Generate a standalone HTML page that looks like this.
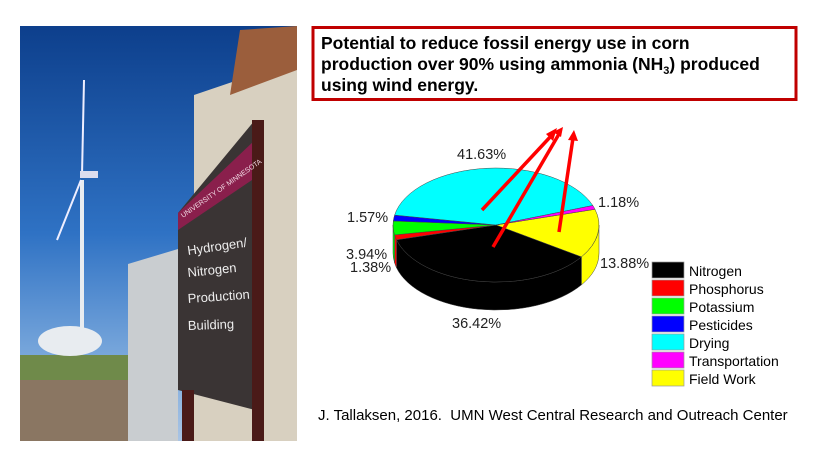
<!DOCTYPE html>
<html><head><meta charset="utf-8"><style>
body{margin:0;background:#fff;width:840px;height:470px;overflow:hidden;font-family:"Liberation Sans",Arial,sans-serif;}
</style></head><body>
<svg width="840" height="470" viewBox="0 0 840 470" xmlns="http://www.w3.org/2000/svg" font-family="Liberation Sans, Arial, sans-serif">
<defs>
<linearGradient id="sky" x1="0" y1="0" x2="0" y2="1">
<stop offset="0" stop-color="#0d3f8c"/><stop offset="0.5" stop-color="#2f72c4"/><stop offset="0.8" stop-color="#7aa8dc"/><stop offset="1" stop-color="#a9c4e4"/></linearGradient>
</defs>
<!-- photo -->
<rect x="20" y="26" width="277" height="415" fill="url(#sky)"/>
<rect x="20" y="378" width="110" height="63" fill="#8a7662"/>
<rect x="20" y="355" width="110" height="25" fill="#6f8a4a"/>
<line x1="82" y1="180" x2="82" y2="330" stroke="#e8ecf0" stroke-width="4"/>
<line x1="82" y1="175" x2="84" y2="80" stroke="#eef" stroke-width="2"/>
<line x1="81" y1="180" x2="57" y2="240" stroke="#eef" stroke-width="2"/>
<rect x="80" y="171" width="18" height="7" fill="#dde"/>
<ellipse cx="70" cy="341" rx="32" ry="15" fill="#e8ecf0"/>
<polygon points="128,264 178,249 178,441 128,441" fill="#c9cdd0"/>
<polygon points="194,95 297,60 297,441 194,441" fill="#d8d0c0"/>
<polygon points="240,30 297,26 297,70 230,95" fill="#9b5e3c"/>
<polygon points="178,213 255,120 255,410 178,390" fill="#3a3434"/>
<polygon points="178,213 255,140 252,180 178,230" fill="#8a1f4c"/>
<rect x="252" y="120" width="12" height="321" fill="#4a1a18"/>
<rect x="182" y="390" width="12" height="51" fill="#4a1a18"/>
<text x="188" y="255" fill="#eee" font-size="13" transform="rotate(-8 188 255)">Hydrogen/</text>
<text x="188" y="277" fill="#eee" font-size="13" transform="rotate(-6 188 277)">Nitrogen</text>
<text x="188" y="303" fill="#eee" font-size="13" transform="rotate(-4 188 303)">Production</text>
<text x="188" y="330" fill="#eee" font-size="13" transform="rotate(-2 188 330)">Building</text>
<text x="183" y="218" font-size="7" transform="rotate(-35 183 218)" style="fill:#f3dce6">UNIVERSITY OF MINNESOTA</text>
<!-- title box -->
<rect x="313" y="27.5" width="483" height="72" fill="#fff" stroke="#c00000" stroke-width="3"/>
<text font-size="17.5" font-weight="bold" fill="#000">
<tspan x="321" y="49">Potential to reduce fossil energy use in corn</tspan>
<tspan x="321" y="70">production over 90% using ammonia (NH<tspan font-size="11" dy="4">3</tspan><tspan dy="-4">) produced</tspan></tspan>
<tspan x="321" y="91">using wind energy.</tspan>
</text>
<!-- pie sides -->
<g stroke="#444" stroke-width="0.5">
<path d="M599 225 A103 57 0 0 1 581.4 256.9 L581.4 284.9 A103 57 0 0 0 599 253 Z" fill="#ffff00"/>
<path d="M581.4 256.9 A103 57 0 0 1 396.5 239.8 L396.5 267.8 A103 57 0 0 0 581.4 284.9 Z" fill="#000"/>
<path d="M396.5 239.8 A103 57 0 0 1 394.6 234.9 L394.6 262.9 A103 57 0 0 0 396.5 267.8 Z" fill="#ff0000"/>
<path d="M394.6 234.9 A103 57 0 0 1 393 225 L393 253 A103 57 0 0 0 394.6 262.9 Z" fill="#00ff00"/>
<!-- tops -->
<path d="M496 225 L595 209.3 A103 57 0 0 1 581.4 256.9 Z" fill="#ffff00"/>
<path d="M496 225 L581.4 256.9 A103 57 0 0 1 396.5 239.8 Z" fill="#000"/>
<path d="M496 225 L396.5 239.8 A103 57 0 0 1 394.6 234.9 Z" fill="#ff0000"/>
<path d="M496 225 L394.6 234.9 A103 57 0 0 1 393.3 221 Z" fill="#00ff00"/>
<path d="M496 225 L393.3 221 A103 57 0 0 1 394.6 215.1 Z" fill="#0000ff"/>
<path d="M496 225 L394.6 215.1 A103 57 0 0 1 592.8 205.5 Z" fill="#00ffff"/>
<path d="M496 225 L592.8 205.5 A103 57 0 0 1 595 209.3 Z" fill="#ff00ff"/>
</g>
<!-- arrows -->
<g stroke="#ff0000" stroke-width="3.5" fill="#ff0000">
<line x1="482" y1="210" x2="552" y2="135"/>
<line x1="493" y1="247" x2="559" y2="134"/>
<line x1="559" y1="232" x2="573" y2="138"/>
</g>
<g fill="#ff0000">
<polygon points="557,128 546,134 553,141"/>
<polygon points="563,127 553,132 561,137"/>
<polygon points="574,130 568,140 578,141"/>
</g>
<!-- labels -->
<g font-size="14.5" fill="#222">
<text x="457" y="159">41.63%</text>
<text x="598" y="207">1.18%</text>
<text x="347" y="222">1.57%</text>
<text x="346" y="259">3.94%</text>
<text x="350" y="272">1.38%</text>
<text x="600" y="268">13.88%</text>
<text x="452" y="328">36.42%</text>
</g>
<!-- legend -->
<g stroke="#999" stroke-width="0.7">
<rect x="652" y="262" width="32" height="16" fill="#000"/>
<rect x="652" y="280" width="32" height="16" fill="#ff0000"/>
<rect x="652" y="298" width="32" height="16" fill="#00ff00"/>
<rect x="652" y="316" width="32" height="16" fill="#0000ff"/>
<rect x="652" y="334" width="32" height="16" fill="#00ffff"/>
<rect x="652" y="352" width="32" height="16" fill="#ff00ff"/>
<rect x="652" y="370" width="32" height="16" fill="#ffff00"/>
</g>
<g font-size="14" fill="#000">
<text x="689" y="276">Nitrogen</text>
<text x="689" y="294">Phosphorus</text>
<text x="689" y="312">Potassium</text>
<text x="689" y="330">Pesticides</text>
<text x="689" y="348">Drying</text>
<text x="689" y="366">Transportation</text>
<text x="689" y="384">Field Work</text>
</g>
<text x="318" y="420" font-size="15" fill="#000" xml:space="preserve">J. Tallaksen, 2016.  UMN West Central Research and Outreach Center</text>
</svg>
</body></html>
